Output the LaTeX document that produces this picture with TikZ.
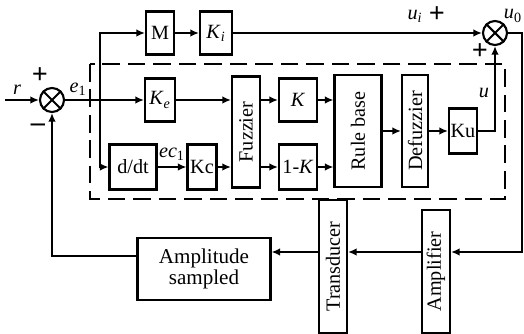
\documentclass[tikz,border=0pt]{standalone}
\usepackage{fontspec}
\setmainfont{Liberation Serif}
\usepackage{graphicx}
\usetikzlibrary{arrows.meta,calc,positioning}

\begin{document}
\begin{tikzpicture}[
    x=0.02cm, y=-0.02cm,
    font=\fontsize{11.5}{12}\selectfont,
    >={Latex[length=1.7mm,width=1.5mm]},
    line width=1.05pt,
    blk/.style    = {draw, line width=1.2pt, inner sep=0pt, align=center},
    sumjn/.style  = {draw, circle, line width=1.2pt, minimum size=0.48cm, inner sep=0pt},
    sig/.style    = {->},
    lbl/.style    = {inner sep=1pt},
    sgn/.style    = {inner sep=0pt, font=\fontsize{16}{16}\selectfont\bfseries},
    frame/.style  = {dash pattern=on 10pt off 4.5pt, line width=1.2pt}
  ]

\useasboundingbox (0,0) rectangle (524,334);

% =========================================================
% Summing junctions
% =========================================================
\node[sumjn] (s1) at (52,100) {};
\draw[line width=1.2pt] (s1.north west) -- (s1.south east)
                        (s1.north east) -- (s1.south west);
\node[sumjn] (s2) at (495,33) {};
\draw[line width=1.2pt] (s2.north west) -- (s2.south east)
                        (s2.north east) -- (s2.south west);

% =========================================================
% Blocks (pixel grid: x=0.02cm)
% =========================================================
\node[blk, minimum width=0.56cm, minimum height=0.86cm] (M)  at (160,33) {M};
\node[blk, minimum width=0.64cm, minimum height=0.86cm] (Ki) at (216,33) {\textit{K}\textsubscript{\textit{i}}};
\node[blk, minimum width=0.60cm, minimum height=0.86cm] (Ke) at (160,100) {\textit{K}\textsubscript{\textit{e}}};
\node[blk, minimum width=0.94cm, minimum height=0.90cm] (ddt) at (133,167) {d/dt};
\node[blk, minimum width=0.58cm, minimum height=0.90cm] (Kc) at (202,167) {Kc};
\node[blk, minimum width=0.56cm, minimum height=2.22cm] (fuz) at (246,132) {\rotatebox{90}{Fuzzier}};
\node[blk, minimum width=0.76cm, minimum height=0.86cm] (Kp) at (298,100) {\textit{K}};
\node[blk, minimum width=0.76cm, minimum height=0.90cm] (Km) at (298,167) {1-\textit{K}};
\node[blk, minimum width=0.94cm, minimum height=2.24cm] (rule) at (358,131) {\rotatebox{90}{Rule base}};
\node[blk, minimum width=0.52cm, minimum height=2.24cm] (defuz) at (415,131) {\rotatebox{90}{Defuzzier}};
\node[blk, minimum width=0.56cm, minimum height=0.90cm] (Ku) at (463,131) {Ku};

\node[blk, minimum width=0.56cm, minimum height=2.66cm] (trans) at (333,266.5) {\rotatebox{90}{Transducer}};
\node[blk, minimum width=0.56cm, minimum height=2.46cm] (amp) at (436,271.5) {\rotatebox{90}{Amplifier}};
\node[blk, minimum width=2.66cm, minimum height=1.24cm, font=\fontsize{12}{10}\selectfont]
  (samp) at (204,269) {Amplitude\\sampled};

% Fuzzy controller boundary
\draw[frame] (90,64) rectangle (505,199);

% =========================================================
% Signal paths
% =========================================================
\coordinate (rin) at (5,100);
\coordinate (e1) at (100,100);
\coordinate (yc1) at (522,33);
\coordinate (yc2) at (522,252);
\coordinate (fb) at (52,256);

\draw[sig] (rin) -- (s1);
\draw[sig] (s1) -- (Ke);
\draw[sig] (e1) |- (M);
\draw[sig] (e1) |- (ddt);
\draw[sig] (M) -- (Ki);
\draw[sig] (Ki) -- (s2);
\draw[sig] (Ke) -- (Ke -| fuz.west);
\draw[sig] (ddt) -- (Kc);
\draw[sig] (Kc) -- (Kc -| fuz.west);
\draw[sig] (fuz.east |- Kp) -- (Kp);
\draw[sig] (fuz.east |- Km) -- (Km);
\draw[sig] (Kp) -- (Kp -| rule.west);
\draw[sig] (Km) -- (Km -| rule.west);
\draw[sig] (rule) -- (defuz);
\draw[sig] (defuz) -- (Ku);
\draw[sig] (Ku) -| (s2);
\draw[sig] (s2) -- (yc1) -- (yc2) -- (yc2 -| amp.east);
\draw[sig] (amp.west |- yc2) -- (yc2 -| trans.east);
\draw[sig] (trans.west |- yc2) -- (yc2 -| samp.east);
\draw[sig] (samp.west |- fb) -- (fb) -- (s1);

% Labels
\node[lbl] (lr)  at (17,90) {\textit{r}};
\node[sgn] (p1)  at (40,76) {+};
\node[sgn] (m1)  at (38,128) {--};
\node[lbl] (le1) at (78,89) {\textit{e}\textsubscript{1}};
\node[lbl] (lec) at (172,154) {\textit{ec}\textsubscript{1}};
\node[lbl] (lui) at (415,16) {\textit{u}\textsubscript{\textit{i}}};
\node[sgn] (p2)  at (437,15) {+};
\node[lbl] (lu0) at (513,16) {\textit{u}\textsubscript{0}};
\node[sgn] (p3)  at (480,52) {+};
\node[lbl] (lu)  at (484,93) {\textit{u}};

\end{tikzpicture}
\end{document}
